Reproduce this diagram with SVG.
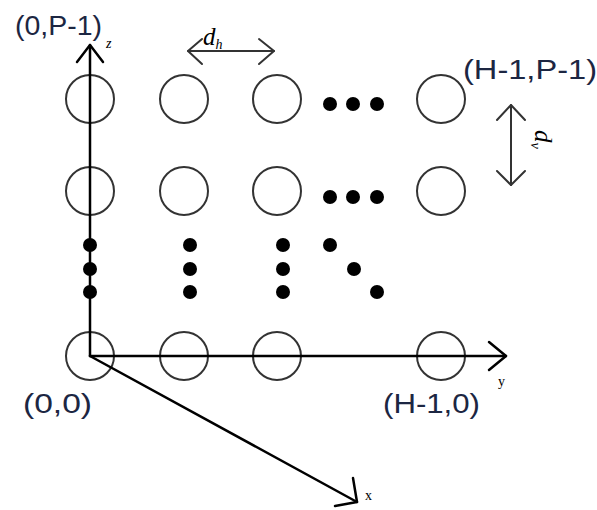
<svg xmlns="http://www.w3.org/2000/svg" width="597" height="510" viewBox="0 0 597 510">
<style>
.node circle.n{fill:none;stroke:#333;stroke-width:2}
.dot{fill:#000}
.ax{fill:none;stroke:#000;stroke-width:2.5;stroke-linecap:round;stroke-linejoin:round}
.dim{fill:none;stroke:#333;stroke-width:2;stroke-linecap:round;stroke-linejoin:round}
.lbl{font-family:"Liberation Sans",Arial,sans-serif;font-size:28px;fill:#1c2642}
.axl{font-family:"Liberation Serif","Times New Roman",serif;font-size:14px;fill:#000}
.it{font-family:"Liberation Serif","Times New Roman",serif;font-style:italic;fill:#000}
</style>
<rect width="597" height="510" fill="#fff"/>
<g id="nodes">
<g id="n-0-top" class="node"><circle class="n" cx="90" cy="99" r="24"/></g>
<g id="n-1-top" class="node"><circle class="n" cx="184" cy="99" r="24"/></g>
<g id="n-2-top" class="node"><circle class="n" cx="277" cy="99" r="24"/></g>
<g id="n-H-top" class="node"><circle class="n" cx="441" cy="99" r="24"/></g>
<g id="n-0-2" class="node"><circle class="n" cx="90" cy="191" r="24"/></g>
<g id="n-1-2" class="node"><circle class="n" cx="184" cy="191" r="24"/></g>
<g id="n-2-2" class="node"><circle class="n" cx="277" cy="191" r="24"/></g>
<g id="n-H-2" class="node"><circle class="n" cx="441" cy="191" r="24"/></g>
<g id="n-0-0" class="node"><circle class="n" cx="90" cy="356" r="24"/></g>
<g id="n-1-0" class="node"><circle class="n" cx="184" cy="356" r="24"/></g>
<g id="n-2-0" class="node"><circle class="n" cx="277" cy="356" r="24"/></g>
<g id="n-H-0" class="node"><circle class="n" cx="441" cy="356" r="24"/></g>
</g>
<g id="ellipsis">
<circle class="dot" cx="330" cy="104" r="7"/><circle class="dot" cx="353" cy="104" r="7"/><circle class="dot" cx="377" cy="104" r="7"/>
<circle class="dot" cx="330" cy="197" r="7"/><circle class="dot" cx="353" cy="197" r="7"/><circle class="dot" cx="377" cy="197" r="7"/>
<circle class="dot" cx="90" cy="245" r="7"/><circle class="dot" cx="90" cy="269" r="7"/><circle class="dot" cx="90" cy="292" r="7"/>
<circle class="dot" cx="190" cy="245" r="7"/><circle class="dot" cx="190" cy="269" r="7"/><circle class="dot" cx="190" cy="292" r="7"/>
<circle class="dot" cx="283" cy="245" r="7"/><circle class="dot" cx="283" cy="269" r="7"/><circle class="dot" cx="283" cy="292" r="7"/>
<circle class="dot" cx="330" cy="245" r="7"/><circle class="dot" cx="354" cy="269" r="7"/><circle class="dot" cx="377" cy="292" r="7"/>
</g>
<g id="connectors">
<line class="ax" x1="90" y1="356" x2="90" y2="45"/>
<polyline class="ax" points="77,62 90,45 103,62"/>
<line class="ax" x1="90" y1="356" x2="506" y2="356"/>
<polyline class="ax" points="489,342 506,356 489,370"/>
<line class="ax" x1="90" y1="356" x2="357" y2="502"/>
<polyline class="ax" stroke-width="3" points="353,478 357,502 335,506"/>
<line class="dim" x1="188" y1="51" x2="274" y2="51"/>
<polyline class="dim" points="202,39 188,51 202,64"/>
<polyline class="dim" points="259,39 274,51 259,64"/>
<line class="dim" x1="511" y1="105" x2="511" y2="185"/>
<polyline class="dim" points="497,120 511,105 525,120"/>
<polyline class="dim" points="497,171 511,185 525,171"/>
</g>
<g id="labels">
<text class="lbl" x="15" y="35" textLength="87" lengthAdjust="spacingAndGlyphs">(0,P-1)</text>
<text class="lbl" x="463" y="79" textLength="134" lengthAdjust="spacingAndGlyphs">(H-1,P-1)</text>
<text class="lbl" x="23" y="413" textLength="69" lengthAdjust="spacingAndGlyphs">(0,0)</text>
<text class="lbl" x="383" y="413" textLength="97" lengthAdjust="spacingAndGlyphs">(H-1,0)</text>
<text class="axl" x="106" y="48" font-style="italic">z</text>
<text class="axl" x="498" y="386">y</text>
<text class="axl" x="365" y="500">x</text>
<text class="it" x="203" y="45" font-size="25">d<tspan font-size="14" dy="4">h</tspan></text>
<text class="it" transform="translate(535,130) rotate(90)" font-size="25">d<tspan font-size="14" dy="4">v</tspan></text>
</g>
</svg>
